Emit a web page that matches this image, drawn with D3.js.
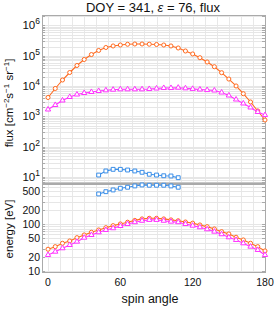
<!DOCTYPE html>
<html><head><meta charset="utf-8">
<script src="https://cdn.jsdelivr.net/npm/d3@7"></script>
<style>body{margin:0;background:#fff}svg{display:block}text{font-family:"Liberation Sans",Arial,sans-serif;fill:#111}</style>
</head><body><svg id="c" width="274" height="312"></svg>
<script>
const angles = d3.range(0, 181, 6);
const fluxOrange = [4210,8340,15900,28100,47900,75500,110000,150000,188000,211000,227000,240000,245000,245000,241000,236000,227000,211000,181000,144000,115000,86500,62400,43600,27700,17100,10100,5610,2990,1510,760];
const fluxMagenta = [1690,2380,3350,4370,5280,5920,6390,6890,7270,7600,7840,7840,7840,7840,8020,8330,8650,8650,8860,8450,8100,7720,7400,7160,6150,4900,3610,2670,1970,1400,1110];
const blueAngles = d3.range(42, 109, 6);
const fluxBlue = [11.6,15.8,17.9,17.9,17.0,15.8,14.3,12.3,11.6,11.0,10.8,9.5];
const energyOrange = [29.0,32.9,38.8,43.4,51.1,58.3,66.6,74.5,83.4,92.0,100,109,119,128,132,132,128,122,117,110,104,95.2,87.6,78.3,68.6,61.3,52.1,45.7,38.8,32.9,26.7];
const energyMagenta = [21.9,25.7,30.4,35.7,42.0,51.1,58.3,66.6,74.5,81.1,90.6,100,109,117,122,122,117,112,109,100,92,85.1,77.1,68.6,60.4,52.1,45.7,38.8,32.9,28.0,21.9];
const energyBlue = [435,486,529,575,604,644,676,666,666,666,644,604];
const xTicks = [0,60,120,180];
const fluxTicks = [1e1,1e2,1e3,1e4,1e5,1e6];
const energyTicks = [10,20,50,100,200,500];

const svg = d3.select("#c");
const L=42, R=265;
const x = d3.scaleLinear().domain([-5,180]).range([L,R]);
const yT = d3.scaleLog().domain([6.34, 2.22e6]).range([183,15]);
const yB = d3.scaleLog().domain([9.5, 708]).range([272,184]);

const cO="#ff6a1f", cM="#ff33ff", cB="#3a8ee8";

function grid(y, top, bot, lo, hi){
  const g = svg.append("g");
  d3.range(0,181,10).forEach(v=>{
    const xx=Math.round(x(v))+0.5;
    g.append("line").attr("x1",xx).attr("x2",xx).attr("y1",top).attr("y2",bot).attr("stroke","#e8e8e8").attr("stroke-width",1);
  });
  const ticks=[];
  for(let e=lo;e<=hi;e++){ for(let m=1;m<10;m++){ const v=m*Math.pow(10,e); if(v>=y.domain()[0]&&v<=y.domain()[1]) ticks.push(v);} }
  ticks.forEach(v=>{
    const yy=Math.round(y(v))+0.5;
    g.append("line").attr("x1",L).attr("x2",R).attr("y1",yy).attr("y2",yy).attr("stroke","#e6e6e6").attr("stroke-width",1);
    g.append("line").attr("x1",R-3).attr("x2",R).attr("y1",yy).attr("y2",yy).attr("stroke","#aaa");
    g.append("line").attr("x1",L).attr("x2",L+3).attr("y1",yy).attr("y2",yy).attr("stroke","#aaa");
  });
  g.append("rect").attr("x",L+0.5).attr("y",top+0.5).attr("width",R-L).attr("height",bot-top).attr("fill","none").attr("stroke","#aaa");
}
grid(yT,15,183,0,6);
grid(yB,184,272,0,2);
svg.append("line").attr("x1",L).attr("x2",R+1).attr("y1",183.5).attr("y2",183.5).attr("stroke","#aaa").attr("stroke-width",2);

function series(xs, vs, y, col, shape){
  const line=d3.line().x((d,i)=>x(xs[i])).y(d=>y(d));
  svg.append("path").attr("d",line(vs)).attr("fill","none").attr("stroke",col).attr("stroke-width",1.1);
  const sym = shape==="c"?d3.symbolCircle:shape==="t"?d3.symbolTriangle:d3.symbolSquare;
  const size = shape==="c"?13:shape==="t"?12:15;
  svg.append("g").selectAll("path").data(vs).join("path")
    .attr("transform",(d,i)=>`translate(${x(xs[i])},${y(d)})`)
    .attr("d",d3.symbol().type(sym).size(size))
    .attr("fill","#fff").attr("stroke",col).attr("stroke-width",1);
}
series(angles, fluxOrange, yT, cO, "c");
series(angles, fluxMagenta, yT, cM, "t");
series(blueAngles, fluxBlue, yT, cB, "s");
series(angles, energyOrange, yB, cO, "c");
series(angles, energyMagenta, yB, cM, "t");
series(blueAngles, energyBlue, yB, cB, "s");

fluxTicks.forEach(v=>{
  const e=Math.round(Math.log10(v));
  const t=svg.append("text").attr("x",40).attr("y",yT(v)+4).attr("text-anchor","end").attr("font-size",11.5);
  t.append("tspan").text("10");
  t.append("tspan").attr("dy",-5).attr("font-size",8.5).text(e);
});
energyTicks.forEach(v=>{
  svg.append("text").attr("x",40).attr("y",yB(v)+4).attr("text-anchor","end").attr("font-size",10.5).text(v);
});
xTicks.forEach(v=>{
  svg.append("text").attr("x",x(v)).attr("y",286).attr("text-anchor","middle").attr("font-size",10.5).text(v);
});
svg.append("text").attr("x",150).attr("y",303).attr("text-anchor","middle").attr("font-size",12.5).text("spin angle");
const ti=svg.append("text").attr("x",153).attr("y",12).attr("text-anchor","middle").attr("font-size",13);
ti.append("tspan").text("DOY = 341, ");
ti.append("tspan").attr("font-style","italic").text("ε");
ti.append("tspan").text(" = 76, flux");

const yl=svg.append("text").attr("transform","translate(13,103) rotate(-90)").attr("text-anchor","middle").attr("font-size",11.5);
yl.append("tspan").text("flux [cm");
yl.append("tspan").attr("dy",-4).attr("font-size",8).text("−2");
yl.append("tspan").attr("dy",4).text("s");
yl.append("tspan").attr("dy",-4).attr("font-size",8).text("−1");
yl.append("tspan").attr("dy",4).text(" sr");
yl.append("tspan").attr("dy",-4).attr("font-size",8).text("−1");
yl.append("tspan").attr("dy",4).text("]");
svg.append("text").attr("transform","translate(13,229) rotate(-90)").attr("text-anchor","middle").attr("font-size",11.5).text("energy [eV]");
</script></body></html>
